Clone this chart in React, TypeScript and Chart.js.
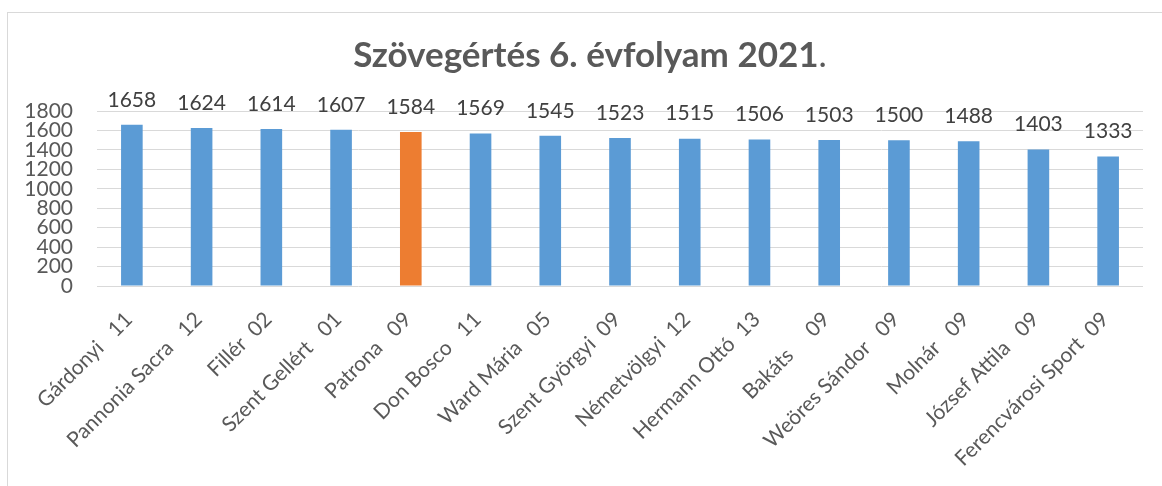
import React, { useEffect, useRef } from "react";
import { Chart, registerables } from "chart.js";

Chart.register(...registerables);

const categories = [
  "Gárdonyi   11",
  "Pannonia Sacra   12",
  "Fillér  02",
  "Szent Gellért   01",
  "Patrona   09",
  "Don Bosco   11",
  "Ward Mária   05",
  "Szent Györgyi  09",
  "Németvölgyi  12",
  "Hermann Ottó  13",
  "Bakáts     09",
  "Weöres Sándor   09",
  "Molnár   09",
  "József Attila   09",
  "Ferencvárosi Sport  09",
];

const scores = [1658, 1624, 1614, 1607, 1584, 1569, 1545, 1523, 1515, 1506, 1503, 1500, 1488, 1403, 1333];

const yTicks = [0, 200, 400, 600, 800, 1000, 1200, 1400, 1600, 1800];

const highlighted = "Patrona   09";
const titleBold = "Szövegértés 6. évfolyam 2021";
const titleTail = ".";

const FONT = "Lato, 'Noto Sans', sans-serif";

const dataLabelPlugin = {
  id: "dataLabels",
  afterDatasetsDraw(chart: any) {
    const ctx = chart.ctx;
    const meta = chart.getDatasetMeta(0);
    ctx.save();
    ctx.font = `21px ${FONT}`;
    ctx.fillStyle = "#404040";
    ctx.textAlign = "center";
    ctx.textBaseline = "middle";
    meta.data.forEach((bar: any, i: number) => {
      ctx.fillText(String(chart.data.datasets[0].data[i]), bar.x, bar.y - 25);
    });
    ctx.restore();
  },
};

const titlePlugin = {
  id: "mixedTitle",
  afterDraw(chart: any) {
    const ctx = chart.ctx;
    ctx.save();
    ctx.fillStyle = "#595959";
    ctx.textBaseline = "middle";
    ctx.textAlign = "left";
    const boldFont = `bold 35px ${FONT}`;
    const normalFont = `35px ${FONT}`;
    ctx.font = boldFont;
    const w1 = ctx.measureText(titleBold).width;
    ctx.font = normalFont;
    const w2 = ctx.measureText(titleTail).width;
    const cx = chart.width / 2 + 5;
    const cy = 43;
    const x0 = cx - (w1 + w2) / 2;
    ctx.font = boldFont;
    ctx.fillText(titleBold, x0, cy);
    ctx.font = normalFont;
    ctx.fillText(titleTail, x0 + w1, cy);
    ctx.restore();
  },
};

export default function App() {
  const canvasRef = useRef<HTMLCanvasElement | null>(null);

  useEffect(() => {
    if (!canvasRef.current) return;
    const chart = new Chart(canvasRef.current, {
      type: "bar",
      data: {
        labels: categories,
        datasets: [
          {
            data: scores,
            backgroundColor: categories.map((c) => (c === highlighted ? "#ED7D31" : "#5B9BD5")),
            borderWidth: 0,
            categoryPercentage: 1,
            barPercentage: 0.31,
          },
        ],
      },
      options: {
        animation: false,
        responsive: false,
        maintainAspectRatio: false,
        layout: { padding: { left: 0, right: 19, top: 98, bottom: 0 } },
        plugins: {
          legend: { display: false },
          tooltip: { enabled: false },
          title: { display: false },
        },
        scales: {
          x: {
            grid: { display: false, drawTicks: false },
            border: { display: false },
            ticks: {
              color: "#595959",
              font: { family: FONT, size: 21 },
              minRotation: 45,
              maxRotation: 45,
              autoSkip: false,
              padding: 21,
              labelOffset: -3,
            },
            afterFit(scale: any) {
              scale.height = 200;
            },
          },
          y: {
            min: 0,
            max: 1800,
            grid: { color: "#D9D9D9", lineWidth: 1, drawTicks: false },
            border: { display: false },
            ticks: {
              color: "#595959",
              font: { family: FONT, size: 21, lineHeight: 0.9 },
              padding: 24,
              autoSkip: false,
              callback: (v: any) => String(v),
            },
            afterBuildTicks(axis: any) {
              axis.ticks = yTicks.map((v) => ({ value: v }));
            },
            afterFit(scale: any) {
              scale.width = 89;
            },
          },
        },
      },
      plugins: [dataLabelPlugin, titlePlugin],
    });
    return () => chart.destroy();
  }, []);

  return (
    <div
      style={{
        position: "fixed",
        left: 7,
        top: 12,
        width: 1200,
        height: 520,
        border: "1px solid #D9D9D9",
        background: "#fff",
        boxSizing: "border-box",
      }}
    >
      <canvas ref={canvasRef} width={1154} height={473} style={{ display: "block", width: 1154, height: 473 }} />
    </div>
  );
}
